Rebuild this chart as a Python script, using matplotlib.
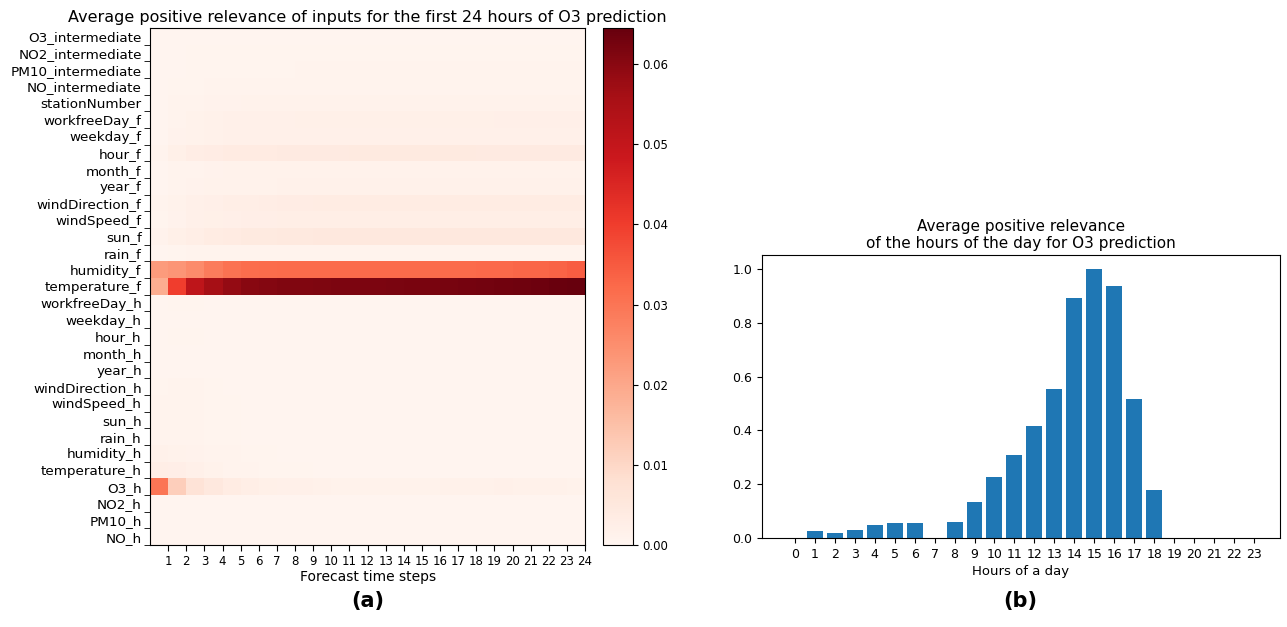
import numpy as np
import matplotlib
matplotlib.use("Agg")
import matplotlib.pyplot as plt

# input features (top to bottom in the heatmap)
features = ["O3_intermediate", "NO2_intermediate", "PM10_intermediate", "NO_intermediate",
            "stationNumber", "workfreeDay_f", "weekday_f", "hour_f", "month_f", "year_f",
            "windDirection_f", "windSpeed_f", "sun_f", "rain_f", "humidity_f", "temperature_f",
            "workfreeDay_h", "weekday_h", "hour_h", "month_h", "year_h", "windDirection_h",
            "windSpeed_h", "sun_h", "rain_h", "humidity_h", "temperature_h", "O3_h",
            "NO2_h", "PM10_h", "NO_h"]
steps = list(range(1, 25))

# relevance per feature, forecast steps 1..24
rel = {
    "O3_intermediate":   [0.0004, 0.0005, 0.0005, 0.0005, 0.0005, 0.0005, 0.0005, 0.0005, 0.0005, 0.0005, 0.0005, 0.0005,
                          0.0005, 0.0005, 0.0005, 0.0005, 0.0005, 0.0005, 0.0005, 0.0005, 0.0005, 0.0005, 0.0005, 0.0005],
    "NO2_intermediate":  [0.0004, 0.0005, 0.0006, 0.0006, 0.0006, 0.0006, 0.0007, 0.0007, 0.0007, 0.0007, 0.0007, 0.0007,
                          0.0007, 0.0007, 0.0007, 0.0007, 0.0007, 0.0007, 0.0007, 0.0007, 0.0007, 0.0007, 0.0007, 0.0007],
    "PM10_intermediate": [0.0004, 0.0005, 0.0006, 0.0006, 0.0007, 0.0007, 0.0007, 0.0007, 0.0008, 0.0008, 0.0008, 0.0008,
                          0.0008, 0.0008, 0.0008, 0.0008, 0.0008, 0.0008, 0.0008, 0.0008, 0.0008, 0.0008, 0.0008, 0.0008],
    "NO_intermediate":   [0.0004, 0.0006, 0.0007, 0.0008, 0.0008, 0.0009, 0.0009, 0.0009, 0.0010, 0.0010, 0.0010, 0.0010,
                          0.0010, 0.0010, 0.0010, 0.0010, 0.0010, 0.0010, 0.0010, 0.0010, 0.0010, 0.0010, 0.0010, 0.0010],
    "stationNumber":     [0.0004, 0.0008, 0.0010, 0.0012, 0.0012, 0.0013, 0.0013, 0.0014, 0.0014, 0.0014, 0.0015, 0.0015,
                          0.0015, 0.0015, 0.0015, 0.0015, 0.0015, 0.0015, 0.0015, 0.0015, 0.0015, 0.0015, 0.0015, 0.0015],
    "workfreeDay_f":     [0.0005, 0.0010, 0.0014, 0.0016, 0.0018, 0.0019, 0.0020, 0.0020, 0.0021, 0.0021, 0.0021, 0.0022,
                          0.0022, 0.0022, 0.0022, 0.0022, 0.0022, 0.0022, 0.0022, 0.0023, 0.0023, 0.0023, 0.0023, 0.0023],
    "weekday_f":         [0.0005, 0.0012, 0.0015, 0.0017, 0.0018, 0.0019, 0.0019, 0.0020, 0.0020, 0.0020, 0.0020, 0.0020,
                          0.0020, 0.0020, 0.0020, 0.0020, 0.0020, 0.0020, 0.0020, 0.0020, 0.0020, 0.0020, 0.0020, 0.0020],
    "hour_f":            [0.0010, 0.0022, 0.0032, 0.0035, 0.0038, 0.0040, 0.0040, 0.0041, 0.0042, 0.0042, 0.0042, 0.0043,
                          0.0043, 0.0043, 0.0043, 0.0043, 0.0043, 0.0043, 0.0042, 0.0042, 0.0042, 0.0042, 0.0042, 0.0042],
    "month_f":           [0.0004, 0.0008, 0.0010, 0.0012, 0.0013, 0.0013, 0.0014, 0.0014, 0.0014, 0.0015, 0.0015, 0.0015,
                          0.0015, 0.0015, 0.0015, 0.0015, 0.0015, 0.0015, 0.0015, 0.0015, 0.0015, 0.0015, 0.0015, 0.0015],
    "year_f":            [0.0004, 0.0009, 0.0012, 0.0013, 0.0014, 0.0015, 0.0015, 0.0016, 0.0016, 0.0016, 0.0016, 0.0016,
                          0.0016, 0.0016, 0.0016, 0.0016, 0.0016, 0.0016, 0.0016, 0.0016, 0.0016, 0.0016, 0.0016, 0.0016],
    "windDirection_f":   [0.0008, 0.0015, 0.0020, 0.0025, 0.0028, 0.0030, 0.0032, 0.0034, 0.0035, 0.0036, 0.0036, 0.0036,
                          0.0037, 0.0037, 0.0037, 0.0037, 0.0037, 0.0037, 0.0037, 0.0037, 0.0037, 0.0037, 0.0037, 0.0037],
    "windSpeed_f":       [0.0006, 0.0012, 0.0018, 0.0022, 0.0024, 0.0026, 0.0027, 0.0028, 0.0028, 0.0029, 0.0029, 0.0029,
                          0.0029, 0.0030, 0.0030, 0.0030, 0.0030, 0.0030, 0.0030, 0.0030, 0.0030, 0.0030, 0.0030, 0.0030],
    "sun_f":             [0.0012, 0.0022, 0.0030, 0.0036, 0.0040, 0.0043, 0.0045, 0.0046, 0.0047, 0.0048, 0.0048, 0.0048,
                          0.0048, 0.0048, 0.0048, 0.0048, 0.0048, 0.0048, 0.0048, 0.0048, 0.0048, 0.0048, 0.0048, 0.0048],
    "rain_f":            [0.0004, 0.0006, 0.0008, 0.0009, 0.0010, 0.0010, 0.0010, 0.0010, 0.0010, 0.0010, 0.0010, 0.0010,
                          0.0010, 0.0010, 0.0010, 0.0010, 0.0010, 0.0010, 0.0010, 0.0010, 0.0010, 0.0010, 0.0010, 0.0010],
    "humidity_f":        [0.0225, 0.0235, 0.0255, 0.0285, 0.0305, 0.0315, 0.0318, 0.0320, 0.0320, 0.0320, 0.0320, 0.0320,
                          0.0320, 0.0320, 0.0320, 0.0320, 0.0320, 0.0322, 0.0325, 0.0325, 0.0328, 0.0330, 0.0335, 0.0345],
    "temperature_f":     [0.0190, 0.0400, 0.0510, 0.0560, 0.0585, 0.0600, 0.0605, 0.0610, 0.0612, 0.0614, 0.0615, 0.0616,
                          0.0617, 0.0618, 0.0620, 0.0622, 0.0624, 0.0626, 0.0628, 0.0630, 0.0633, 0.0636, 0.0640, 0.0645],
    "workfreeDay_h":     [0.0004, 0.0006, 0.0006, 0.0005, 0.0005, 0.0005, 0.0005, 0.0005, 0.0005, 0.0005, 0.0005, 0.0005,
                          0.0005, 0.0005, 0.0005, 0.0005, 0.0005, 0.0005, 0.0005, 0.0005, 0.0005, 0.0005, 0.0005, 0.0005],
    "weekday_h":         [0.0004, 0.0005, 0.0005, 0.0005, 0.0004, 0.0004, 0.0004, 0.0004, 0.0004, 0.0004, 0.0004, 0.0004,
                          0.0004, 0.0004, 0.0004, 0.0004, 0.0004, 0.0004, 0.0004, 0.0004, 0.0004, 0.0004, 0.0004, 0.0004],
    "hour_h":            [0.0004, 0.0006, 0.0006, 0.0005, 0.0004, 0.0004, 0.0004, 0.0004, 0.0004, 0.0004, 0.0004, 0.0004,
                          0.0004, 0.0004, 0.0004, 0.0004, 0.0004, 0.0004, 0.0004, 0.0004, 0.0004, 0.0004, 0.0004, 0.0004],
    "month_h":           [0.0004, 0.0005, 0.0005, 0.0004, 0.0004, 0.0004, 0.0004, 0.0004, 0.0004, 0.0004, 0.0004, 0.0004,
                          0.0004, 0.0004, 0.0004, 0.0004, 0.0004, 0.0004, 0.0004, 0.0004, 0.0004, 0.0004, 0.0004, 0.0004],
    "year_h":            [0.0004, 0.0005, 0.0005, 0.0004, 0.0004, 0.0004, 0.0004, 0.0004, 0.0004, 0.0004, 0.0004, 0.0004,
                          0.0004, 0.0004, 0.0004, 0.0004, 0.0004, 0.0004, 0.0004, 0.0004, 0.0004, 0.0004, 0.0004, 0.0004],
    "windDirection_h":   [0.0006, 0.0010, 0.0009, 0.0006, 0.0005, 0.0005, 0.0004, 0.0004, 0.0004, 0.0004, 0.0004, 0.0004,
                          0.0004, 0.0004, 0.0004, 0.0004, 0.0004, 0.0004, 0.0004, 0.0004, 0.0004, 0.0004, 0.0004, 0.0004],
    "windSpeed_h":       [0.0008, 0.0008, 0.0008, 0.0007, 0.0006, 0.0005, 0.0004, 0.0004, 0.0004, 0.0004, 0.0004, 0.0004,
                          0.0004, 0.0004, 0.0004, 0.0004, 0.0004, 0.0004, 0.0004, 0.0004, 0.0004, 0.0004, 0.0004, 0.0004],
    "sun_h":             [0.0010, 0.0009, 0.0008, 0.0007, 0.0006, 0.0005, 0.0005, 0.0004, 0.0004, 0.0004, 0.0004, 0.0004,
                          0.0004, 0.0004, 0.0004, 0.0004, 0.0004, 0.0004, 0.0004, 0.0004, 0.0004, 0.0004, 0.0004, 0.0004],
    "rain_h":            [0.0009, 0.0009, 0.0008, 0.0007, 0.0006, 0.0005, 0.0005, 0.0004, 0.0004, 0.0004, 0.0004, 0.0004,
                          0.0004, 0.0004, 0.0004, 0.0004, 0.0004, 0.0004, 0.0004, 0.0004, 0.0004, 0.0004, 0.0004, 0.0004],
    "humidity_h":        [0.0016, 0.0015, 0.0012, 0.0010, 0.0008, 0.0007, 0.0006, 0.0005, 0.0005, 0.0005, 0.0005, 0.0005,
                          0.0005, 0.0005, 0.0005, 0.0005, 0.0005, 0.0005, 0.0005, 0.0005, 0.0005, 0.0005, 0.0005, 0.0005],
    "temperature_h":     [0.0030, 0.0026, 0.0020, 0.0014, 0.0010, 0.0008, 0.0007, 0.0006, 0.0006, 0.0005, 0.0005, 0.0005,
                          0.0005, 0.0005, 0.0005, 0.0005, 0.0005, 0.0005, 0.0005, 0.0005, 0.0005, 0.0005, 0.0005, 0.0005],
    "O3_h":              [0.0300, 0.0120, 0.0070, 0.0048, 0.0036, 0.0028, 0.0022, 0.0020, 0.0018, 0.0016, 0.0015, 0.0015,
                          0.0015, 0.0015, 0.0015, 0.0015, 0.0016, 0.0016, 0.0017, 0.0018, 0.0017, 0.0016, 0.0016, 0.0014],
    "NO2_h":             [0.0004, 0.0004, 0.0004, 0.0004, 0.0004, 0.0004, 0.0004, 0.0004, 0.0004, 0.0004, 0.0004, 0.0004,
                          0.0004, 0.0004, 0.0004, 0.0004, 0.0004, 0.0004, 0.0004, 0.0004, 0.0004, 0.0004, 0.0004, 0.0004],
    "PM10_h":            [0.0004, 0.0004, 0.0004, 0.0004, 0.0004, 0.0004, 0.0004, 0.0004, 0.0004, 0.0004, 0.0004, 0.0004,
                          0.0004, 0.0004, 0.0004, 0.0004, 0.0004, 0.0004, 0.0004, 0.0004, 0.0004, 0.0004, 0.0004, 0.0004],
    "NO_h":              [0.0003, 0.0003, 0.0003, 0.0003, 0.0003, 0.0003, 0.0003, 0.0003, 0.0003, 0.0003, 0.0003, 0.0003,
                          0.0003, 0.0003, 0.0003, 0.0003, 0.0003, 0.0003, 0.0003, 0.0003, 0.0003, 0.0003, 0.0003, 0.0003],
}

# normalized relevance of hours of day
hours = list(range(24))
hour_rel = [0.0, 0.025, 0.018, 0.030, 0.048, 0.055, 0.055, 0.0, 0.060, 0.133, 0.227, 0.307,
            0.415, 0.553, 0.893, 1.0, 0.938, 0.515, 0.178, 0.0, 0.0, 0.0, 0.0, 0.0]

fig = plt.figure(figsize=(12.87, 6.27), dpi=100)

# (a) heatmap
ax1 = fig.add_axes([0.1166, 0.1308, 0.338, 0.8246])
grid = np.array([rel[f] for f in features])
mesh = ax1.pcolormesh(np.arange(25), np.arange(len(features) + 1), grid,
                      cmap="Reds", vmin=0, vmax=0.0645)
ax1.set_ylim(len(features), 0)
ax1.set_xlim(0, 24)
ax1.set_yticks(np.arange(len(features)) + 0.5)
ax1.set_yticklabels(features, fontsize=9.7)
ax1.tick_params(axis="y", length=0, pad=6)
ax1.set_yticks(np.arange(1, len(features) + 1), minor=True)
ax1.tick_params(axis="y", which="minor", length=4)
ax1.set_xticks(steps)
ax1.set_xticklabels([str(s) for s in steps], fontsize=8.5)
ax1.tick_params(axis="x", length=4, pad=3)
ax1.set_xlabel("Forecast time steps", fontsize=10, labelpad=2)
ax1.set_title("Average positive relevance of inputs for the first 24 hours of O3 prediction",
              fontsize=11.5, pad=4)

cax = fig.add_axes([0.4685, 0.1308, 0.0233, 0.8246])
cb = fig.colorbar(mesh, cax=cax, ticks=[0, 0.01, 0.02, 0.03, 0.04, 0.05, 0.06])
cb.ax.set_yticklabels(["0.00", "0.01", "0.02", "0.03", "0.04", "0.05", "0.06"])
cb.ax.tick_params(labelsize=8.5)

# (b) bar chart
ax2 = fig.add_axes([0.592, 0.142, 0.4025, 0.4514])
ax2.bar(hours, hour_rel, color="#1f77b4", width=0.8)
ax2.set_xlim(-1.65, 24.3)
ax2.set_ylim(0, 1.052)
ax2.set_xticks(hours)
ax2.set_xticklabels([str(h) for h in hours], fontsize=9)
ax2.tick_params(axis="y", labelsize=9)
ax2.set_xlabel("Hours of a day", fontsize=9.5, labelpad=3)
ax2.set_title("Average positive relevance\nof the hours of the day for O3 prediction",
              fontsize=11, pad=5)

fig.text(0.286, 0.032, "(a)", fontsize=15, fontweight="bold", ha="center")
fig.text(0.793, 0.032, "(b)", fontsize=15, fontweight="bold", ha="center")

fig.savefig("out.png", dpi=100)
